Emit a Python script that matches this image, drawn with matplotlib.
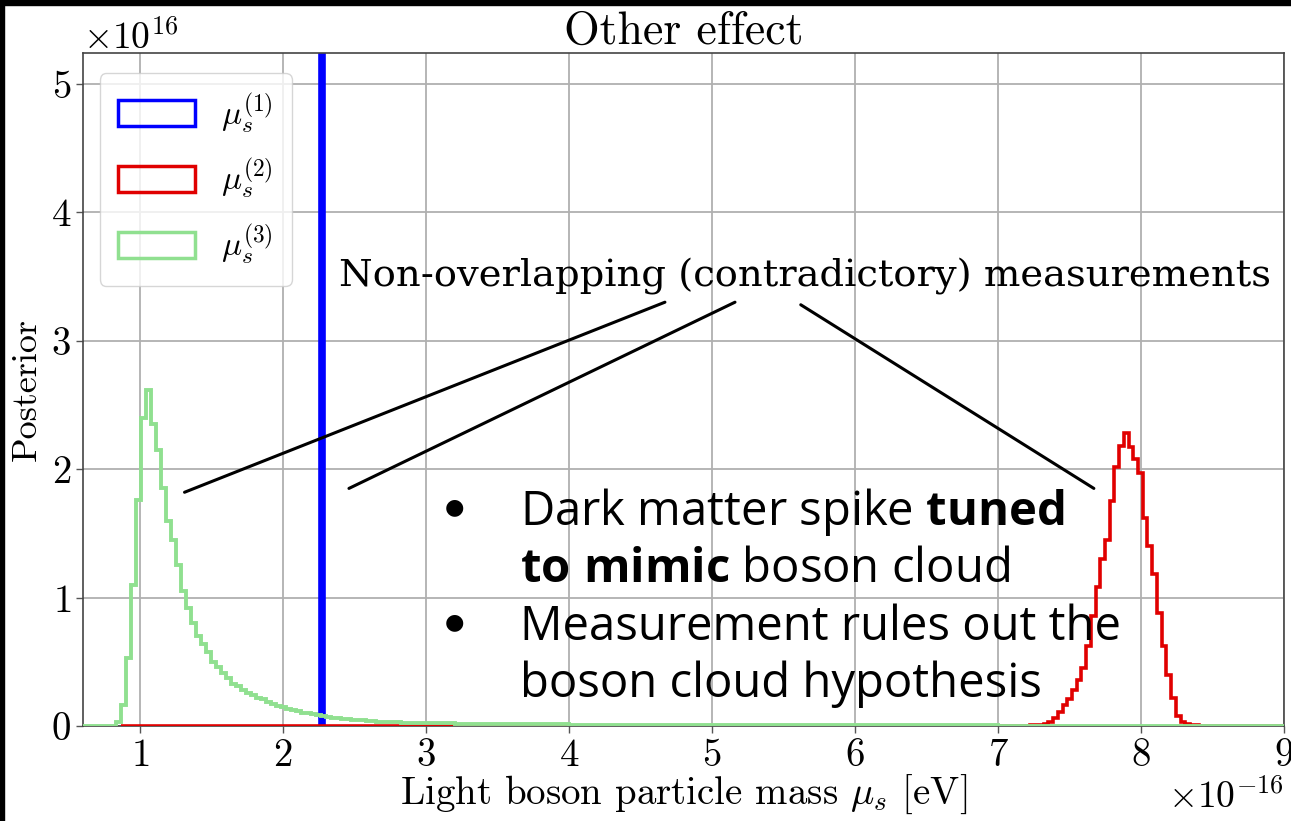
import matplotlib
matplotlib.use("Agg")
import matplotlib.pyplot as plt
from matplotlib.patches import Patch, Rectangle
import numpy as np

# Posterior histograms of the light boson mass (x in 1e-16 eV, y in 1e16)
green_fine = np.round(0.83 + 0.035 * np.arange(59), 3)
green_edges = np.concatenate([[0.60], green_fine, [3.2, 3.6, 4.0, 4.6, 5.2, 6.0, 7.0, 8.0, 9.0]])
green_vals = [0.0,
              0.03, 0.16, 0.53, 1.10, 1.76, 2.40, 2.62, 2.35, 2.15, 1.85,
              1.60, 1.45, 1.25, 1.05, 0.92, 0.80, 0.70, 0.64, 0.58, 0.50,
              0.46, 0.41, 0.37, 0.33, 0.31, 0.28, 0.26, 0.24, 0.22, 0.21,
              0.19, 0.17, 0.155, 0.145, 0.135, 0.125, 0.115, 0.105, 0.10, 0.09,
              0.085, 0.075, 0.07, 0.065, 0.06, 0.058, 0.055, 0.05, 0.048, 0.045,
              0.04, 0.04, 0.035, 0.033, 0.03, 0.03, 0.028, 0.025,
              0.02, 0.017, 0.014, 0.011, 0.008, 0.006, 0.004, 0.003, 0.002]

red_fine = np.round(7.22 + 0.033 * np.arange(38), 3)
red_edges = np.concatenate([[0.865], red_fine, [9.0]])
red_vals = [0.0,
            0.005, 0.008, 0.01, 0.015, 0.03, 0.06, 0.11, 0.16, 0.21, 0.28,
            0.36, 0.45, 0.62, 0.86, 1.08, 1.30, 1.45, 1.75, 2.02, 2.18,
            2.28, 2.17, 2.08, 1.97, 1.62, 1.40, 1.18, 0.88, 0.62, 0.40,
            0.22, 0.08, 0.03, 0.015, 0.008, 0.004, 0.002, 0.0]

blue_mass = 2.27

legend_labels = [r"$\mu_s^{(1)}$", r"$\mu_s^{(2)}$", r"$\mu_s^{(3)}$"]
colors = ["blue", "#e00000", "#90e090"]

plt.rcParams["font.family"] = "serif"
plt.rcParams["font.serif"] = ["cmr10"]
plt.rcParams["mathtext.fontset"] = "cm"
plt.rcParams["axes.formatter.use_mathtext"] = True
plt.rcParams["mathtext.bf"] = "Open Sans:bold"
plt.rcParams["mathtext.rm"] = "Open Sans"
plt.rcParams["mathtext.it"] = "Open Sans:italic"

fig = plt.figure(figsize=(12.91, 8.21), dpi=100)
ax = fig.add_axes([0.0643, 0.1157, 0.9303, 0.8197])

ax.stairs(np.array(red_vals) * 1e16, red_edges * 1e-16,
          color=colors[1], lw=2.6, zorder=3)
ax.stairs(np.array(green_vals) * 1e16, green_edges * 1e-16,
          color=colors[2], lw=2.8, zorder=4)
ax.axvline(blue_mass * 1e-16, color=colors[0], lw=5.5, zorder=2)

ax.set_xlim(0.6e-16, 9e-16)
ax.set_ylim(0, 5.24e16)
ax.set_xticks(np.arange(1, 10) * 1e-16)
ax.set_yticks(np.arange(0, 6) * 1e16)
ax.grid(True, color="#b0b0b0", lw=1.3, zorder=0)
ax.set_axisbelow(True)
for s in ax.spines.values():
    s.set_color("#444444")
    s.set_linewidth(1.2)
ax.tick_params(labelsize=28, length=5, width=1, color="#555555")
ax.xaxis.get_offset_text().set_fontsize(27)
ax.yaxis.get_offset_text().set_fontsize(27)

ax.set_title("Other effect", fontsize=33, pad=4)
ax.set_xlabel(r"Light boson particle mass $\mu_s$ [eV]", fontsize=28, labelpad=-1)
ax.set_ylabel("Posterior", fontsize=26, labelpad=6)

handles = [Patch(facecolor="none", edgecolor=c, lw=2.5) for c in colors]
leg = ax.legend(handles, legend_labels, loc="upper left", fontsize=24,
                handlelength=2.3, handleheight=0.8, labelspacing=0.65,
                handletextpad=0.8, borderpad=0.55, fancybox=True, framealpha=0.8,
                bbox_to_anchor=(0.0, 0.995))
leg.set_zorder(5)

# annotation: label with three leader lines
ax.text(5.65e-16, 3.42e16, "Non-overlapping (contradictory) measurements",
        family="DejaVu Serif", fontsize=27.7, ha="center", va="baseline", zorder=6)
leaders = [((4.67, 3.30), (1.31, 1.82)),
           ((5.16, 3.30), (2.46, 1.85)),
           ((5.62, 3.28), (7.67, 1.85))]
for (x0, y0), (x1, y1) in leaders:
    ax.annotate("", xy=(x1 * 1e-16, y1 * 1e16), xytext=(x0 * 1e-16, y0 * 1e16),
                arrowprops=dict(arrowstyle="-", color="black", lw=2.2,
                                shrinkA=0, shrinkB=0), zorder=6)

bullet_lines = [r"Dark matter spike $\mathbf{tuned}$",
                r"$\mathbf{to\ mimic}$ boson cloud",
                "Measurement rules out the",
                "boson cloud hypothesis"]
bullet_rows = [0, 2]
for i, line in enumerate(bullet_lines):
    yy = 1.565 - i * 0.447
    ax.text(3.655e-16, yy * 1e16, line, family="Open Sans", fontsize=34,
            math_fontfamily="custom", ha="left", va="baseline", zorder=6)
    if i in bullet_rows:
        ax.text(3.20e-16, (yy + 0.14) * 1e16, "\u25cf", family="DejaVu Sans",
                fontsize=16, ha="center", va="center", zorder=6)

# black frame at the top and left edge
fig.patches.append(Rectangle((0, 1 - 5 / 821), 1, 5 / 821, transform=fig.transFigure,
                             color="black", zorder=10))
fig.patches.append(Rectangle((0, 0), 4 / 1291, 1, transform=fig.transFigure,
                             color="black", zorder=10))

fig.savefig("out.png", dpi=100)
